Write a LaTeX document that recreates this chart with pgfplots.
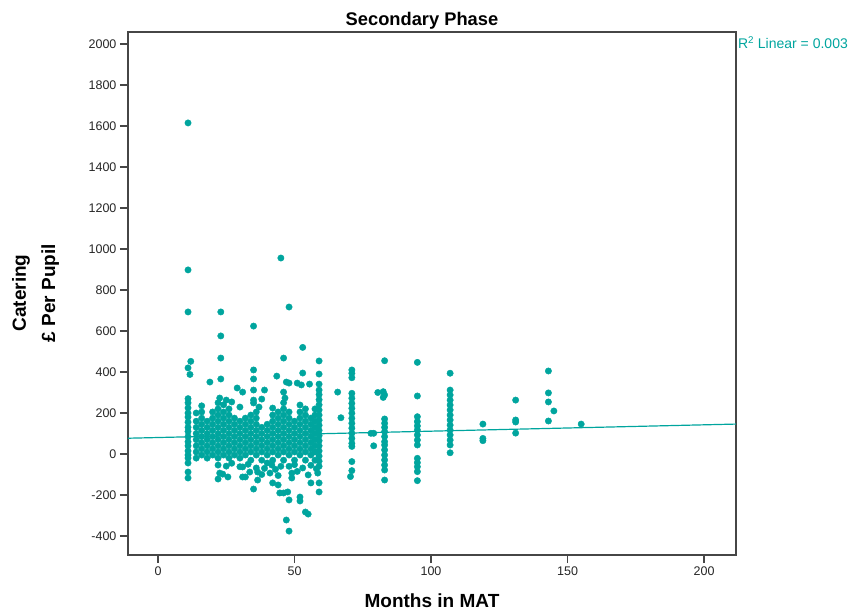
\documentclass[border=0pt]{standalone}
\usepackage{pgfplots}
\pgfplotsset{compat=1.18}
\usepackage{fontspec}
\setmainfont{Liberation Sans}
\definecolor{teal1}{RGB}{0,165,158}
\definecolor{axgray}{RGB}{70,70,70}
\begin{document}
\begin{tikzpicture}
\begin{axis}[
 scale only axis, width=608pt, height=523pt,
 xmin=-11, xmax=211.7, ymin=-492.7, ymax=2058.5,
 xtick={0,50,...,200}, ytick={-400,-200,...,2000},
 tick align=outside, tick pos=left, major tick length=8pt,
 axis line style={axgray, line width=1.2pt},
 tick style={axgray, line width=1.2pt},
 ticklabel style={font=\fontsize{12.5}{14}\selectfont, text=black!85},
 /pgf/number format/assume math mode=true,
 /pgf/number format/1000 sep={},
 clip=false,
]
\addplot[teal1, line width=1.2pt] coordinates {(-11,77) (211.7,146)};
\addplot[only marks, mark=*, mark size=3.2pt, mark options={draw=teal1, fill=teal1}] coordinates {
(11,1615)(11,898)(11,693)(23,693)(23,576)(35,624)(45,956)(48,717)(53,520)
(12,452)(11,420)(11.7,388)(23,468)(19,351)(23,366)(35,410)(35,366)(29,322)(31,302)(35,312)(35,263)
(46,468)(59,454)(43.5,380)(53,395)(59,390)(47,351)(48,346)(51,346)(52.5,337)(55.5,341)(59,341)(39,312)(46,302)(46.5,273)(38,268)(37,229)(42,224)(52,239)(65.8,302)(67,177)
(22.6,273)(25,263)(27,254)(30,229)(35,249)
(11,270)(11,250)(11,225)(11,200)(11,180)(11,155)(11,130)(11,110)(11,85)(11,60)(11,40)(11,15)(11,-5)(11,-20)(11,-44)(11,-88)(11,-117)
(22,-54)(25,-59)(22.6,-93)(23.7,-98)(22,-122)(25.6,-112)(31,-63)(31,-112)(32,-112)(35,-171)(33.6,-88)(36.5,-88)(36.5,-127)(41.7,-54)(42,-141)(44,-151)(44.6,-190)(46,-190)(47.5,-185)(48,-224)(52,-210)(52,-229)(54,-283)(55,-293)(47,-322)(48,-376)(55,-102)(56,-141)(58.5,-93)(40,-44)(41,-93)(49,-93)(49,-117)(27,-45)
(30,-62)(33,-50)(36,-68)(39,-70)(43,-75)(45,-60)(48,-60)(50,-52)(53,-68)(56,-55)(58,-72)(44,-105)(51,-85)(38,-100)
(59,312)(59,290)(59,265)(59,240)(59,215)(59,190)(59,165)(59,140)(59,115)(59,90)(59,65)(59,40)(59,15)(59,-10)(59,-35)(59,-60)(59,-141)(59,-185)
(14,-20)(14,10)(14,40)(14,70)(14,100)(14,130)(14,160)(14,200)
(16,-5)(16,25)(16,55)(16,85)(16,115)(16,145)(16,175)(16,205)(16,235)
(18,-20)(18,10)(18,40)(18,70)(18,100)(18,130)(18,160)
(20,-5)(20,25)(20,55)(20,85)(20,115)(20,145)(20,175)(20,205)
(22,-20)(22,10)(22,40)(22,70)(22,100)(22,130)(22,160)(22,190)(22,220)(22,250)
(24,-5)(24,25)(24,55)(24,85)(24,115)(24,145)(24,175)(24,205)(24,240)
(26,-20)(26,10)(26,40)(26,70)(26,100)(26,130)(26,160)(26,190)(26,220)
(28,-5)(28,25)(28,55)(28,85)(28,115)(28,145)(28,175)
(30,-20)(30,10)(30,40)(30,70)(30,100)(30,130)(30,160)
(32,-5)(32,25)(32,55)(32,85)(32,115)(32,145)(32,175)
(34,-30)(34,10)(34,40)(34,70)(34,100)(34,130)(34,160)(34,190)
(36,-5)(36,25)(36,55)(36,85)(36,115)(36,145)(36,175)(36,205)
(38,-30)(38,10)(38,40)(38,70)(38,100)(38,130)
(40,-5)(40,25)(40,55)(40,85)(40,115)(40,145)
(42,-30)(42,10)(42,40)(42,70)(42,100)(42,130)(42,160)(42,190)
(44,-5)(44,25)(44,55)(44,85)(44,115)(44,145)(44,175)(44,205)
(46,-30)(46,10)(46,40)(46,70)(46,100)(46,130)(46,160)(46,190)(46,220)(46,250)
(48,-5)(48,25)(48,55)(48,85)(48,115)(48,145)(48,175)(48,205)
(50,-30)(50,10)(50,40)(50,70)(50,100)(50,130)(50,160)
(52,-5)(52,25)(52,55)(52,85)(52,115)(52,145)(52,175)(52,205)
(54,-30)(54,10)(54,40)(54,70)(54,100)(54,130)(54,160)(54,190)(54,220)
(56,-5)(56,25)(56,55)(56,85)(56,115)(56,145)(56,175)
(57.5,-30)(57.5,10)(57.5,40)(57.5,70)(57.5,100)(57.5,130)(57.5,160)(57.5,190)(57.5,220)
(71,410)(71,394)(71,372)(71,296)(71,272)(71,247)(71,223)(71,199)(71,174)(71,150)(71,126)(71,101)(71,76)(71,52)(71,37)(71,-37)(71,-81)(70.5,-110)
(83,455)(82.5,304)(83,288)(82.5,276)(80.5,300)(83,171)(83,150)(83,130)(83,109)(83,85)(83,60)(83,44)(83,20)(83,-5)(83,-29)(83,-54)(83,-78)(83,-127)(78,101)(79,101)(79,40)
(95,447)(95,283)(95,182)(95,158)(95,137)(95,117)(95,93)(95,68)(95,44)(95,-21)(95,-42)(95,-62)(95,-86)(95,-130)
(107,394)(107,312)(107,288)(107,263)(107,239)(107,215)(107,190)(107,166)(107,141)(107,117)(107,93)(107,68)(107,44)(107,6)
(119,146)(119,76)(119,65)
(131,263)(131,166)(131,156)(131,102)
(143,405)(143,298)(143,254)(145,210)(143,161)
(155,146)
};
\node[font=\fontsize{18.3}{21}\selectfont\bfseries, anchor=base] at (rel axis cs:0.4836,1.0115) {Secondary Phase};
\node[font=\fontsize{19}{22}\selectfont\bfseries, anchor=base] at (rel axis cs:0.5,-0.1013) {Months in MAT};
\node[font=\fontsize{19}{22}\selectfont\bfseries, rotate=90, anchor=center] at (rel axis cs:-0.176,0.501) {Catering};
\node[font=\fontsize{19}{22}\selectfont\bfseries, rotate=90, anchor=center] at (rel axis cs:-0.128,0.501) {£ Per Pupil};
\node[font=\fontsize{14}{16}\selectfont, text=teal1, anchor=west, inner sep=0pt] at (rel axis cs:1.003,0.979) {R\textsuperscript{2} Linear = 0.003};
\coordinate (bbSW) at (rel axis cs:-0.2105,-0.1128);
\coordinate (bbNE) at (rel axis cs:1.1974,1.0612);
\end{axis}
\pgfresetboundingbox
\path (bbSW) rectangle (bbNE);
\end{tikzpicture}
\end{document}
